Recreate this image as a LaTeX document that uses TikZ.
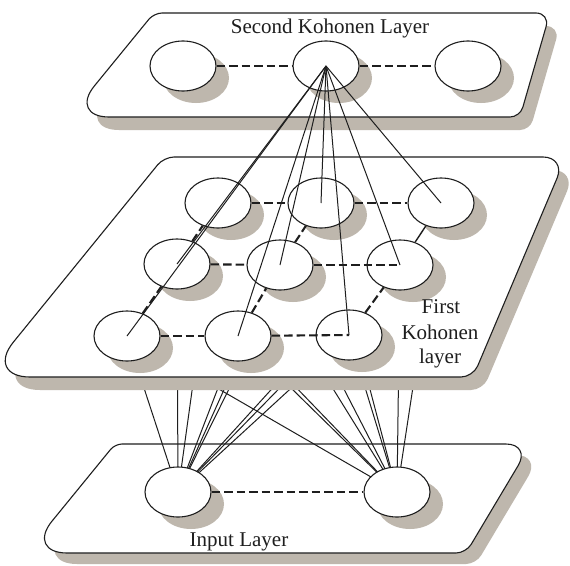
\documentclass[tikz,border=0pt]{standalone}
\usepackage{fontspec}
\setmainfont{Liberation Serif}
\usetikzlibrary{calc,shapes.geometric,shadows}
\pgfdeclarelayer{bg}
\pgfdeclarelayer{lnk}
\pgfsetlayers{bg,lnk,main}
\definecolor{shcol}{RGB}{190,183,173}
\definecolor{ink}{RGB}{30,30,30}
% #1 style, #2 TL, #3 TR, #4 BR, #5 BL, #6..#9 corner distances
\newcommand\plate[9]{%
 \path[#1]
 ($(#2)!#6pt!(#3)$) -- ($(#3)!#7pt!(#2)$)
 .. controls ($(#3)!0.45*#7pt!(#2)$) and ($(#3)!0.45*#7pt!(#4)$) .. ($(#3)!#7pt!(#4)$)
 -- ($(#4)!#8pt!(#3)$)
 .. controls ($(#4)!0.45*#8pt!(#3)$) and ($(#4)!0.45*#8pt!(#5)$) .. ($(#4)!#8pt!(#5)$)
 -- ($(#5)!#9pt!(#4)$)
 .. controls ($(#5)!0.45*#9pt!(#4)$) and ($(#5)!0.45*#9pt!(#2)$) .. ($(#5)!#9pt!(#2)$)
 -- ($(#2)!#6pt!(#5)$)
 .. controls ($(#2)!0.45*#6pt!(#5)$) and ($(#2)!0.45*#6pt!(#3)$) .. ($(#2)!#6pt!(#3)$)
 -- cycle;}
\begin{document}
\begin{tikzpicture}[x=1pt,y=-1pt,
 neuron/.style={ellipse,draw=ink,line width=1.1pt,fill=white,minimum width=66pt,minimum height=50pt,inner sep=0pt,
   drop shadow={shadow xshift=13pt,shadow yshift=-12pt,fill=shcol,opacity=1}},
 platebody/.style={draw=ink,line width=1.1pt,fill=white},
 plateshadow/.style={fill=shcol},
 dashline/.style={draw=ink,line width=2.1pt,dash pattern=on 8.5pt off 4pt},
 solidline/.style={draw=ink,line width=1.4pt},
 link/.style={draw=ink,line width=1pt},
 lbl/.style={font=\fontsize{21}{25}\selectfont,inner sep=0pt,text=ink}]
\useasboundingbox (0,0) rectangle (570,565);
\begin{pgfonlayer}{bg}
 \fill[white] (0,0) rectangle (570,565);
 % bottom plate
 \begin{scope}[shift={(10,11)}]
  \plate{plateshadow}{115,444}{531,444}{466,553}{26,553}{7}{25}{10}{41}
 \end{scope}
 \plate{platebody}{115,444}{531,444}{466,553}{26,553}{7}{25}{10}{41}
\end{pgfonlayer}

% input layer
\node[neuron] (in1) at (178,492) {};
\node[neuron] (in2) at (397,492) {};
\draw[dashline] (in1) -- (in2);
\node[lbl,anchor=base] (inlbl) at (239,546) {Input Layer};

% middle plate
\begin{scope}[shift={(10,13)}]
 \plate{plateshadow}{164,157}{566,157}{473,377}{-15,377}{10}{23}{12}{45}
\end{scope}
\plate{platebody}{164,157}{566,157}{473,377}{-15,377}{10}{23}{12}{45}

\node[neuron] (m11) at (218,203) {};
\node[neuron] (m12) at (321,203) {};
\node[neuron] (m13) at (441,203) {};
\node[neuron] (m21) at (177,264) {};
\node[neuron] (m22) at (280,265) {};
\node[neuron] (m23) at (400,265) {};
\node[neuron] (m31) at (127,336) {};
\node[neuron] (m32) at (238,336) {};
\node[neuron] (m33) at (349,335) {};

\draw[dashline] (m11) -- (m12);
\draw[dashline] (m12) -- (m13);
\draw[dashline] (m21) -- (m22);
\draw[dashline] (m22) -- (m23.center);
\draw[dashline] (m31) -- (m32);
\draw[dashline] (m32) -- (m33.center);
\draw[dashline] (m31) -- (m21);
\draw[dashline] (m21) -- (m11);
\draw[dashline] (m32) -- (m22);
\draw[dashline] (m22) -- (m12);
\draw[dashline] (m33) -- (m23);
\draw[solidline] (m23) -- (m13);

\node[lbl,anchor=base] (fl1) at (441,313) {First};
\node[lbl,anchor=base] (fl2) at (440,339) {Kohonen};
\node[lbl,anchor=base] (fl3) at (440,363) {layer};

% top plate
\begin{scope}[shift={(10,13)}]
 \plate{plateshadow}{154,13}{550,13}{520,117}{69,117}{8}{14}{10}{40}
\end{scope}
\plate{platebody}{154,13}{550,13}{520,117}{69,117}{8}{14}{10}{40}

\node[neuron] (t1) at (183,66) {};
\node[neuron] (t2) at (326,66) {};
\node[neuron] (t3) at (468,66) {};
\draw[dashline] (t1) -- (t2);
\draw[dashline] (t2) -- (t3);
\node[lbl,anchor=base] (toplbl) at (330,33) {Second Kohonen Layer};

% links from second layer
\foreach \m in {m31,m21,m32,m22,m12,m33,m23,m13}
  \draw[link] (t2.center) -- (\m.center);

% links from input layer (behind middle plate)
\begin{pgfonlayer}{lnk}
 \foreach \i in {in1,in2}
  \foreach \m in {m11,m12,m13,m21,m22,m23,m31,m32,m33}
   \draw[link] (\i.center) -- (\m.center);
\end{pgfonlayer}
\end{tikzpicture}
\end{document}
